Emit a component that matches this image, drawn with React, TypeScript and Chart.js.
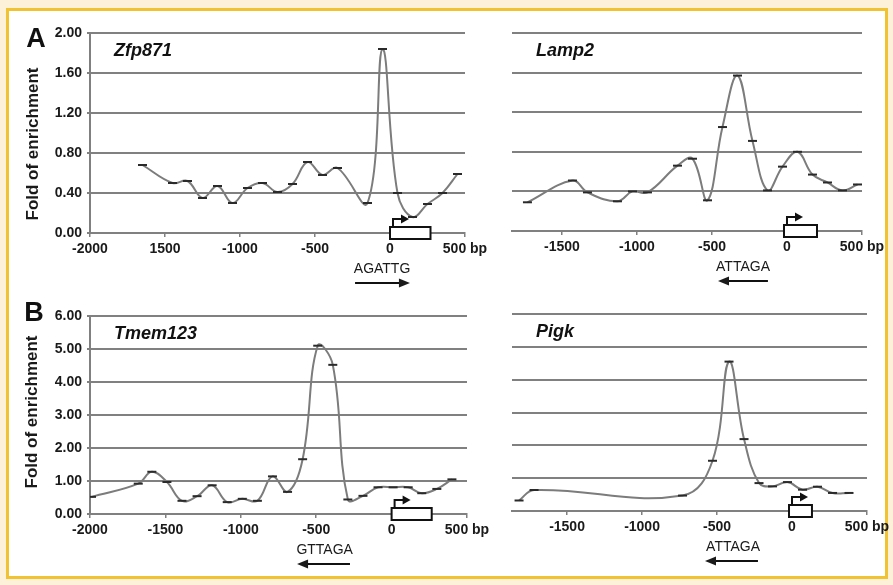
import React, { useEffect, useRef } from 'react';
import { Chart, registerables } from 'chart.js';
Chart.register(...registerables);

const FONT = '"Liberation Sans", Arial, Helvetica, sans-serif';

// ---- Data (bp position relative to TSS, fold of enrichment) ----
const zfpBp = [-1650, -1450, -1350, -1250, -1150, -1050, -950, -850, -750, -650, -550, -450, -350, -150, -50, 50, 150, 250, 350, 450];
const zfpFold = [0.68, 0.50, 0.52, 0.35, 0.47, 0.30, 0.45, 0.50, 0.41, 0.49, 0.71, 0.58, 0.65, 0.30, 1.84, 0.40, 0.16, 0.29, 0.40, 0.59];

const lampBp = [-1730, -1430, -1330, -1130, -1030, -930, -730, -630, -530, -430, -330, -230, -130, -30, 70, 170, 270, 370, 470];
const lampFold = [0.29, 0.51, 0.39, 0.30, 0.40, 0.39, 0.66, 0.73, 0.31, 1.05, 1.57, 0.91, 0.41, 0.65, 0.80, 0.57, 0.49, 0.41, 0.47];

const tmemBp = [-1990, -1680, -1590, -1490, -1390, -1290, -1190, -1090, -990, -890, -790, -690, -590, -490, -390, -290, -190, -90, 10, 110, 200, 300, 400];
const tmemFold = [0.52, 0.92, 1.28, 0.97, 0.40, 0.54, 0.87, 0.36, 0.46, 0.40, 1.14, 0.67, 1.66, 5.10, 4.52, 0.44, 0.55, 0.81, 0.81, 0.81, 0.63, 0.76, 1.05];

const pigkBp = [-1820, -1720, -730, -530, -420, -320, -220, -130, -30, 70, 170, 270, 380];
const pigkFold = [0.32, 0.64, 0.47, 1.53, 4.55, 2.19, 0.85, 0.75, 0.88, 0.65, 0.74, 0.55, 0.55];

// tick values
const leftXTicks = [-2000, -1500, -1000, -500, 0, 500];
const rightXTicks = [-1500, -1000, -500, 0, 500];

// annotations (bp)
const genes = ['Zfp871', 'Lamp2', 'Tmem123', 'Pigk'];
const motifs = ['AGATTG', 'ATTAGA', 'GTTAGA', 'ATTAGA'];
const motifCenters = [-53, -293, -444, -393];
const motifArrows = [[-233, 133], [-127, -460], [-276, -627], [-227, -580]];
const tssBoxes = [[0, 270], [-20, 200], [0, 266], [-20, 133]];

type Spec = {
  left: number; top: number; width: number; height: number;
  padTop: number; padRight: number; padBottom: number; yWidth: number;
  xMin: number; xMax: number; xTicks: number[]; yMax: number; yStep: number; showY: boolean;
  bp: number[]; fold: number[]; idx: number; typo?: boolean;
};

const SPECS: Spec[] = [
  { left: 0, top: 10, width: 500, height: 290, padTop: 23, padRight: 35, padBottom: 37, yWidth: 90,
    xMin: -2000, xMax: 500, xTicks: leftXTicks, yMax: 2, yStep: 0.4, showY: true, bp: zfpBp, fold: zfpFold, idx: 0, typo: true },
  { left: 480, top: 10, width: 413, height: 290, padTop: 23, padRight: 31, padBottom: 39, yWidth: 32,
    xMin: -1833, xMax: 500, xTicks: rightXTicks, yMax: 2, yStep: 0.4, showY: false, bp: lampBp, fold: lampFold, idx: 1 },
  { left: 0, top: 295, width: 500, height: 285, padTop: 21, padRight: 33, padBottom: 36, yWidth: 90,
    xMin: -2000, xMax: 500, xTicks: leftXTicks, yMax: 6, yStep: 1, showY: true, bp: tmemBp, fold: tmemFold, idx: 2 },
  { left: 480, top: 295, width: 413, height: 285, padTop: 19, padRight: 26, padBottom: 39, yWidth: 32,
    xMin: -1867, xMax: 500, xTicks: rightXTicks, yMax: 6, yStep: 1, showY: false, bp: pigkBp, fold: pigkFold, idx: 3 },
];

const GRID = '#808080';
const TEXT = '#1a1a1a';

function makeAnnot(i: number) {
  return {
    id: 'annot' + i,
    afterDraw(chart: any) {
      const { ctx, chartArea: ca } = chart;
      const xs = chart.scales.x;
      const ys = chart.scales.y;
      ctx.save();
      ctx.fillStyle = '#111';
      ctx.font = `italic bold 18px ${FONT}`;
      ctx.textAlign = 'left';
      ctx.textBaseline = 'middle';
      ctx.fillText(genes[i], ca.left + 24, ca.top + 18);

      // TSS box + bent arrow
      const y0 = ys.getPixelForValue(0);
      const b0 = xs.getPixelForValue(tssBoxes[i][0]);
      const b1 = xs.getPixelForValue(tssBoxes[i][1]);
      const bh = 12;
      ctx.fillStyle = '#fff';
      ctx.fillRect(b0, y0 - bh / 2, b1 - b0, bh);
      ctx.lineWidth = 2;
      ctx.strokeStyle = '#111';
      ctx.strokeRect(b0, y0 - bh / 2, b1 - b0, bh);
      const ax = b0 + 3;
      const aTop = y0 - bh / 2 - 8;
      ctx.beginPath();
      ctx.moveTo(ax, y0 - bh / 2);
      ctx.lineTo(ax, aTop);
      ctx.lineTo(ax + 9, aTop);
      ctx.stroke();
      ctx.fillStyle = '#111';
      ctx.beginPath();
      ctx.moveTo(ax + 8, aTop - 4.5);
      ctx.lineTo(ax + 16, aTop);
      ctx.lineTo(ax + 8, aTop + 4.5);
      ctx.closePath();
      ctx.fill();

      // motif label + arrow
      ctx.font = `14px ${FONT}`;
      ctx.textAlign = 'center';
      ctx.fillStyle = TEXT;
      ctx.fillText(motifs[i], xs.getPixelForValue(motifCenters[i]), ca.bottom + 36);
      const t = xs.getPixelForValue(motifArrows[i][0]);
      const h = xs.getPixelForValue(motifArrows[i][1]);
      const dir = Math.sign(h - t);
      const my = ca.bottom + 50;
      ctx.beginPath();
      ctx.moveTo(t, my);
      ctx.lineTo(h - dir * 8, my);
      ctx.stroke();
      ctx.beginPath();
      ctx.moveTo(h, my);
      ctx.lineTo(h - dir * 11, my - 4.5);
      ctx.lineTo(h - dir * 11, my + 4.5);
      ctx.closePath();
      ctx.fill();
      ctx.restore();
    },
  };
}

function zeroPad(s: any) {
  s.paddingLeft = 0; s.paddingRight = 0; s.paddingTop = 0; s.paddingBottom = 0;
}

function Panel({ spec }: { spec: Spec }) {
  const ref = useRef<HTMLCanvasElement>(null);
  useEffect(() => {
    if (!ref.current) return;
    const chart = new Chart(ref.current, {
      type: 'line',
      data: {
        datasets: [{
          data: spec.bp.map((x, k) => ({ x, y: spec.fold[k] })),
          borderColor: '#7c7c7c',
          borderWidth: 2,
          tension: 0.4,
          fill: false,
          pointStyle: 'line',
          pointRadius: 4.5,
          pointHoverRadius: 4.5,
          pointBorderWidth: 2,
          pointBorderColor: '#2a2a2a',
          pointBackgroundColor: '#2a2a2a',
        }],
      },
      options: {
        responsive: false,
        animation: false,
        devicePixelRatio: 1,
        events: [],
        layout: { padding: { left: 0, top: spec.padTop, right: spec.padRight, bottom: spec.padBottom } },
        plugins: { legend: { display: false }, tooltip: { enabled: false }, title: { display: false } },
        scales: {
          x: {
            type: 'linear',
            min: spec.xMin,
            max: spec.xMax,
            afterBuildTicks: (s: any) => { s.ticks = spec.xTicks.map((v) => ({ value: v })); },
            afterFit: (s: any) => { s.height = 30; zeroPad(s); },
            ticks: {
              autoSkip: false,
              maxRotation: 0,
              minRotation: 0,
              padding: 4,
              color: TEXT,
              font: { family: FONT, size: 14, weight: 'bold' },
              callback: (v: any) => (v === 500 ? '500 bp' : spec.typo && v === -1500 ? '1500' : String(v)),
            },
            grid: { display: true, drawOnChartArea: false, drawTicks: true, tickLength: 4, color: GRID, lineWidth: 1.5 },
            border: { display: true, color: GRID, width: 2 },
          },
          y: {
            min: 0,
            max: spec.yMax,
            afterFit: (s: any) => { s.width = spec.yWidth; zeroPad(s); },
            ticks: {
              stepSize: spec.yStep,
              display: spec.showY,
              padding: 5,
              color: TEXT,
              font: { family: FONT, size: 14, weight: 'bold' },
              callback: (v: any) => Number(v).toFixed(2),
            },
            grid: { color: GRID, lineWidth: 2, drawTicks: spec.showY, tickLength: 3 },
            border: { display: spec.showY, color: GRID, width: 2 },
          },
        },
      } as any,
      plugins: [makeAnnot(spec.idx)],
    });
    return () => chart.destroy();
  }, [spec]);
  return (
    <canvas
      ref={ref}
      width={spec.width}
      height={spec.height}
      style={{ position: 'absolute', left: spec.left, top: spec.top, width: spec.width, height: spec.height }}
    />
  );
}

const foldStyle = (cx: number, cy: number): React.CSSProperties => ({
  position: 'absolute', left: cx, top: cy, transform: 'translate(-50%, -50%) rotate(-90deg)',
  whiteSpace: 'nowrap', font: `bold 17px ${FONT}`, color: TEXT,
});
const letterStyle = (cx: number, cy: number): React.CSSProperties => ({
  position: 'absolute', left: cx, top: cy, transform: 'translate(-50%, -50%)',
  font: `bold 27px ${FONT}`, color: '#111', lineHeight: 1,
});

export default function App() {
  return (
    <div style={{ position: 'absolute', left: 0, top: 0, width: 893, height: 585, background: '#fdf2d9', overflow: 'hidden' }}>
      <div style={{ position: 'absolute', left: 6, top: 8, width: 882, height: 571, boxSizing: 'border-box', border: '3px solid #f1c232', background: '#fff' }} />
      {SPECS.map((s) => <Panel key={s.idx} spec={s} />)}
      <div style={letterStyle(36, 38)}>A</div>
      <div style={letterStyle(34, 312)}>B</div>
      <div style={foldStyle(33, 144)}>Fold of enrichment</div>
      <div style={foldStyle(32, 412)}>Fold of enrichment</div>
    </div>
  );
}
